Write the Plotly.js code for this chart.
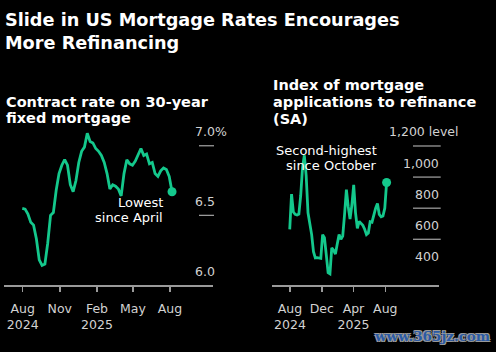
<!DOCTYPE html>
<html>
<head>
<meta charset="utf-8">
<script src="https://cdn.plot.ly/plotly-3.0.1.min.js"></script>
<style>html,body{margin:0;padding:0;background:#000;}#chart{width:496px;height:352px;}</style>
</head>
<body>
<div id="chart"></div>
<script>
// ---- data ----
const weekDates = [
 '2024-07-31','2024-08-07','2024-08-14','2024-08-21','2024-08-28','2024-09-04','2024-09-11','2024-09-18','2024-09-25',
 '2024-10-02','2024-10-09','2024-10-16','2024-10-23','2024-10-30','2024-11-06','2024-11-13','2024-11-20','2024-11-27',
 '2024-12-04','2024-12-11','2024-12-18','2024-12-25','2025-01-01','2025-01-08','2025-01-15','2025-01-22','2025-01-29',
 '2025-02-05','2025-02-12','2025-02-19','2025-02-26','2025-03-05','2025-03-12','2025-03-19','2025-03-26','2025-04-02',
 '2025-04-09','2025-04-16','2025-04-23','2025-04-30','2025-05-07','2025-05-14','2025-05-21','2025-05-28','2025-06-04',
 '2025-06-11','2025-06-18','2025-06-25','2025-07-02','2025-07-09','2025-07-16','2025-07-23','2025-07-30','2025-08-06'
];
const contractRate = [
 6.55, 6.545, 6.51, 6.45, 6.43, 6.33, 6.18, 6.14, 6.15,
 6.30, 6.50, 6.52, 6.68, 6.80, 6.86, 6.90, 6.86, 6.72,
 6.67, 6.75, 6.88, 6.96, 6.99, 7.09, 7.03, 7.02, 6.98,
 6.96, 6.93, 6.88, 6.80, 6.69, 6.72, 6.71, 6.69, 6.64,
 6.80, 6.90, 6.87, 6.86, 6.89, 6.93, 6.98, 6.93, 6.94,
 6.87, 6.88, 6.80, 6.78, 6.82, 6.84, 6.83, 6.78, 6.67
];
const refiIndex = [
 664, 890, 775, 760, 756, 762, 880, 1060, 1140,
 1010, 770, 700, 630, 520, 480, 482, 480, 478,
 630, 610, 500, 385, 378, 545, 530, 505, 570,
 630, 600, 620, 760, 920, 810, 730, 820, 950,
 770, 670, 715, 700, 690, 665, 630, 640, 713,
 710, 760, 800, 830, 760, 745, 750, 800, 965
];
const leftTickVals = ['2024-08-01','2024-11-01','2025-02-01','2025-05-01','2025-08-01'];
const leftTickText = ['Aug<br>2024','Nov','Feb<br>2025','May','Aug'];
const rightTickVals = ['2024-08-01','2024-12-01','2025-04-01','2025-08-01'];
const rightTickText = ['Aug<br>2024','Dec','Apr<br>2025','Aug'];
const rateGridVals = [7.0, 6.5];
const rateLabelVals = [7.0, 6.5, 6.0];
const rateLabelText = ['7.0%', '6.5', '6.0'];
const refiGridVals = [1200, 1000, 800, 600];
const refiLabelVals = [1200, 1000, 800, 600, 400];
const refiLabelText = ['1,200 level', '1,000', '800', '600', '400'];

// ---- style ----
const W = 496, H = 352;
const px = v => v / W;
const py = v => 1 - v / H;
const GREEN = '#14c88c';
const FONT = 'DejaVu Sans';
const LABEL = '#d2d2d2';
const AXIS = '#9a9a9a';

const last = a => a[a.length - 1];

const traces = [
  {x: weekDates, y: contractRate, xaxis: 'x', yaxis: 'y', mode: 'lines',
   line: {color: GREEN, width: 2.8}, hoverinfo: 'skip'},
  {x: [last(weekDates)], y: [last(contractRate)], xaxis: 'x', yaxis: 'y', mode: 'markers',
   marker: {color: GREEN, size: 9}, hoverinfo: 'skip'},
  {x: weekDates, y: refiIndex, xaxis: 'x2', yaxis: 'y2', mode: 'lines',
   line: {color: GREEN, width: 2.8}, hoverinfo: 'skip'},
  {x: [last(weekDates)], y: [last(refiIndex)], xaxis: 'x2', yaxis: 'y2', mode: 'markers',
   marker: {color: GREEN, size: 9}, hoverinfo: 'skip'}
];

const xBase = {
  type: 'date', showline: true, linecolor: AXIS, linewidth: 1.5,
  ticks: 'outside', ticklen: 5, tickcolor: AXIS, tickwidth: 1.5,
  showgrid: false, zeroline: false, fixedrange: true,
  tickfont: {family: FONT, size: 12.5, color: LABEL},
  ticklabelstandoff: 6
};

const shapes = [];
rateGridVals.forEach(v => shapes.push({type: 'line', xref: 'paper', yref: 'y',
  x0: px(199), x1: px(214), y0: v, y1: v, line: {color: AXIS, width: 1.3}}));
refiGridVals.forEach(v => shapes.push({type: 'line', xref: 'paper', yref: 'y2',
  x0: px(413), x1: px(440.7), y0: v, y1: v, line: {color: AXIS, width: 1.3}}));

const annotations = [];
rateLabelVals.forEach((v, i) => annotations.push({xref: 'paper', yref: 'y', x: px(193), y: v,
  xanchor: 'left', yanchor: 'middle', yshift: 14, showarrow: false, text: rateLabelText[i],
  font: {family: FONT, size: 12.5, color: LABEL}}));
refiLabelVals.forEach((v, i) => {
  const top = i === 0;
  annotations.push({xref: 'paper', yref: 'y2', x: top ? px(387) : px(441), y: v,
    xanchor: top ? 'left' : 'right', yanchor: 'middle', yshift: 14, showarrow: false,
    text: refiLabelText[i], font: {family: FONT, size: 12.5, color: LABEL}});
});

function txt(text, x, y, anchor, size, weight, color) {
  annotations.push({xref: 'paper', yref: 'paper', x: px(x), y: py(y), xanchor: anchor,
    yanchor: 'middle', showarrow: false, text: text,
    font: {family: FONT, size: size, color: color || '#ffffff', weight: weight || 400}});
}
// panel subtitles
txt('Contract rate on 30-year', 4, 101.5, 'left', 14.5, 700);
txt('fixed mortgage', 4, 118, 'left', 14.5, 700);
txt('Index of mortgage', 271, 85, 'left', 14.5, 700);
txt('applications to refinance', 271, 102, 'left', 14.5, 700);
txt('(SA)', 271, 118.5, 'left', 14.5, 700);
// call-outs
txt('Lowest', 165, 202.5, 'right', 13);
txt('since April', 165, 217, 'right', 13);
txt('Second-highest', 379, 150.5, 'right', 13);
txt('since October', 379, 165.5, 'right', 13);
// watermark
annotations.push({xref: 'paper', yref: 'paper', x: px(432), y: py(336), xanchor: 'center', yanchor: 'middle',
  showarrow: false, text: 'www.365jz.com',
  font: {family: 'DejaVu Serif', size: 13.5, color: '#2a5aa6', weight: 700,
         shadow: '1px 1px 0 #9a9a9a, -1px -1px 0 #9a9a9a, 1px -1px 0 #9a9a9a, -1px 1px 0 #9a9a9a'}});

const layout = {
  width: W, height: H,
  margin: {l: 0, r: 0, t: 0, b: 0},
  paper_bgcolor: '#000000', plot_bgcolor: '#000000',
  showlegend: false,
  title: {text: 'Slide in US Mortgage Rates Encourages<br>More Refinancing',
          x: px(5), xanchor: 'left', xref: 'paper', y: py(26), yanchor: 'top', yref: 'container',
          font: {family: FONT, size: 17.7, color: '#ffffff', weight: 700}},
  xaxis: Object.assign({}, xBase, {domain: [px(4), px(213)], anchor: 'y',
          range: ['2024-06-15 17:00', '2025-11-15 12:00'], tickvals: leftTickVals, ticktext: leftTickText}),
  yaxis: {domain: [py(285), py(125)], anchor: 'x', range: [6.0, 7.149], visible: false, fixedrange: true},
  xaxis2: Object.assign({}, xBase, {domain: [px(271.7), px(439.3)], anchor: 'y2',
          range: ['2024-05-23 00:00', '2026-02-23 19:00'], tickvals: rightTickVals, ticktext: rightTickText}),
  yaxis2: {domain: [py(285), py(125)], anchor: 'x2', range: [306, 1335], visible: false, fixedrange: true},
  shapes: shapes,
  annotations: annotations
};

Plotly.newPlot('chart', traces, layout, {displayModeBar: false, staticPlot: true});
</script>
</body>
</html>
